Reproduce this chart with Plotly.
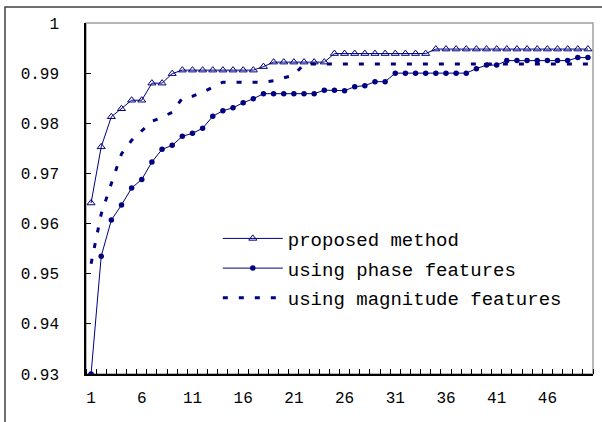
import plotly.graph_objects as go

categories = list(range(1, 51))

proposed = ([0.9641, 0.9753, 0.9813, 0.9829, 0.9846, 0.9846, 0.9880, 0.9880, 0.9899, 0.9906]
            + [0.9906] * 7 + [0.9913] + [0.9922] * 6 + [0.9939] * 10 + [0.9948] * 16)

phase = ([0.9300, 0.9535, 0.9607, 0.9637, 0.9671, 0.9688, 0.9723, 0.9748, 0.9756, 0.9774,
          0.9780, 0.9790, 0.9814, 0.9825, 0.9831, 0.9841, 0.9849, 0.9859]
         + [0.9859] * 5 + [0.9866, 0.9866, 0.9865, 0.9873, 0.9875, 0.9883, 0.9883]
         + [0.9900] * 8 + [0.9909, 0.9916, 0.9916] + [0.9925] * 7 + [0.9931, 0.9931])

magnitude = ([0.9520, 0.9619, 0.9680, 0.9739, 0.9766, 0.9786, 0.9804, 0.9812, 0.9822, 0.9850,
              0.9854, 0.9862, 0.9872] + [0.9882] * 5 + [0.9885, 0.9891, 0.9896] + [0.9918] * 29)

series_names = ["proposed method", "using phase features", "using magnitude features"]

y_ticks = [0.93, 0.94, 0.95, 0.96, 0.97, 0.98, 0.99, 1.0]
y_tick_text = ["0.93", "0.94", "0.95", "0.96", "0.97", "0.98", "0.99", "1"]
x_ticks = [1, 6, 11, 16, 21, 26, 31, 36, 41, 46]

NAVY = "#000080"
FONT = "Liberation Mono"

fig = go.Figure()
fig.add_trace(go.Scatter(
    x=categories, y=proposed, name=series_names[0], mode="lines+markers",
    line=dict(color=NAVY, width=1),
    marker=dict(symbol="triangle-up-open", size=7, color=NAVY, line=dict(width=1, color=NAVY)),
    legendgroup="a"))
fig.add_trace(go.Scatter(
    x=categories, y=phase, name=series_names[1], mode="lines+markers",
    line=dict(color=NAVY, width=1),
    marker=dict(symbol="circle", size=5.5, color=NAVY),
    legendgroup="b"))
fig.add_trace(go.Scatter(
    x=categories, y=magnitude, name=series_names[2], mode="lines",
    line=dict(color=NAVY, width=3, dash="5px,11px"),
    legendgroup="c"))

boundaries = [c - 0.5 for c in categories] + [categories[-1] + 0.5]

fig.update_layout(
    width=602, height=422,
    margin=dict(l=86, r=9, t=23, b=48),
    paper_bgcolor="white", plot_bgcolor="white",
    font=dict(family=FONT, size=16, color="black"),
    showlegend=True,
    legend=dict(x=0.26, y=0.44, xanchor="left", yanchor="top",
                font=dict(family=FONT, size=19, color="black"),
                bgcolor="rgba(0,0,0,0)", borderwidth=0,
                itemwidth=60, tracegroupgap=2, traceorder="grouped"),
    xaxis=dict(range=[0.5, 50.5], tickvals=x_ticks, ticks="", showgrid=False, zeroline=False,
               showline=True, linecolor="black", linewidth=1.5,
               ticklabelstandoff=8,
               minor=dict(tickvals=boundaries, ticks="inside", ticklen=5, tickcolor="black",
                          showgrid=False)),
    yaxis=dict(range=[0.93, 1.0], tickvals=y_ticks, ticktext=y_tick_text, ticks="inside",
               ticklen=5, tickcolor="black", showgrid=False, zeroline=False,
               showline=True, linecolor="black", linewidth=1.5, ticklabelstandoff=22),
    shapes=[
        dict(type="rect", xref="paper", yref="paper", x0=0, x1=1, y0=0, y1=1,
             line=dict(color="#a0a0a0", width=1.5), layer="below"),
        dict(type="rect", xref="paper", yref="paper", x0=(5 - 86) / 507, x1=1.2,
             y0=-0.3, y1=(374 - 7) / 351, line=dict(color="#404040", width=1.5), layer="below"),
    ],
)

fig.write_html("out.html", config={"displayModeBar": False},
               post_script="document.body.style.margin='0px';")
